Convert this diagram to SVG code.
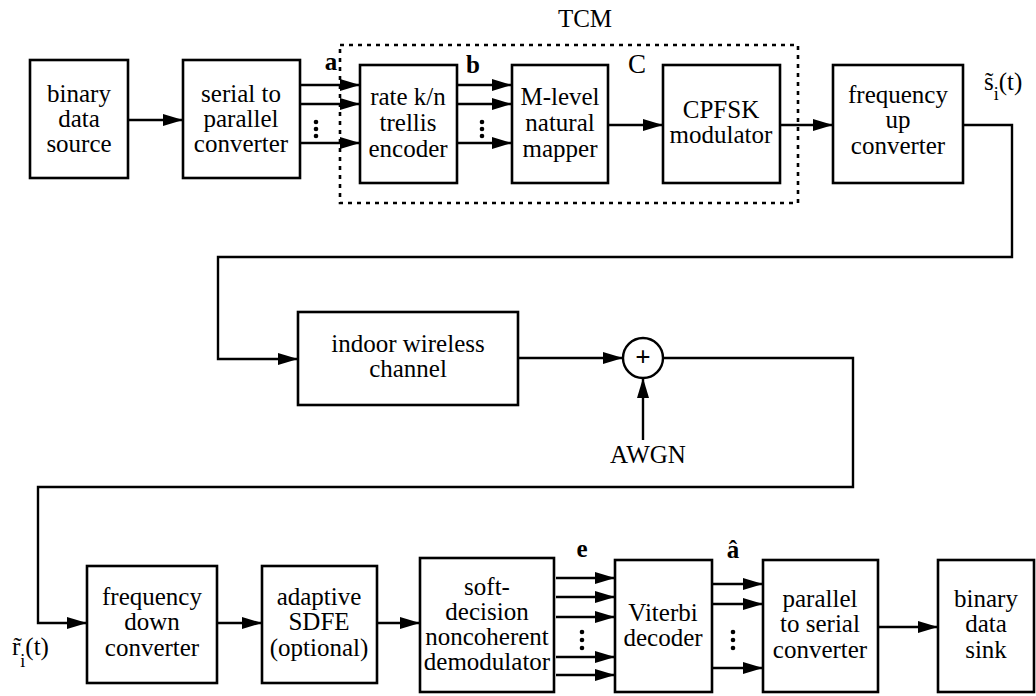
<svg xmlns="http://www.w3.org/2000/svg" width="1036" height="696" viewBox="0 0 1036 696">
<defs>
<marker id="ah" markerUnits="userSpaceOnUse" markerWidth="20" markerHeight="12" refX="20" refY="6" orient="auto">
<path d="M0,0 L20,6 L0,12 z" fill="#000"/>
</marker>
<style>
.box{fill:#fff;stroke:#000;stroke-width:2.6}
.ar{fill:none;stroke:#000;stroke-width:2.4;marker-end:url(#ah)}
.t{font-family:"Liberation Serif","Times New Roman",serif;font-size:25px;fill:#000;text-anchor:middle}
.lb{font-family:"Liberation Serif","Times New Roman",serif;font-size:25px;font-weight:bold;fill:#000;text-anchor:middle}
.dot{fill:#000}
.tcm{fill:none;stroke:#000;stroke-width:2.6;stroke-dasharray:4 5}
</style>
</defs>
<rect width="1036" height="696" fill="#fff"/>

<g id="tcm-frame">
<rect class="tcm" x="340" y="45" width="458" height="158"/>
<text class="t" x="585" y="27">TCM</text>
</g>

<g id="connectors">
<line class="ar" x1="128" y1="120" x2="183" y2="120"/>
<line class="ar" x1="300" y1="85" x2="360" y2="85"/>
<line class="ar" x1="300" y1="104" x2="360" y2="104"/>
<line class="ar" x1="300" y1="143" x2="360" y2="143"/>
<line class="ar" x1="457" y1="85" x2="512" y2="85"/>
<line class="ar" x1="457" y1="104" x2="512" y2="104"/>
<line class="ar" x1="457" y1="143" x2="512" y2="143"/>
<line class="ar" x1="608" y1="125" x2="663" y2="125"/>
<line class="ar" x1="780" y1="125" x2="833" y2="125"/>
<polyline class="ar" points="963,125 1012,125 1012,257 218,257 218,359 298,359"/>
<line class="ar" x1="518" y1="358" x2="623" y2="358"/>
<line class="ar" x1="643" y1="440" x2="643" y2="378"/>
<polyline class="ar" points="663,358 853,358 853,487 38,487 38,623 87,623"/>
<line class="ar" x1="217" y1="623" x2="262" y2="623"/>
<line class="ar" x1="377" y1="623" x2="420" y2="623"/>
<line class="ar" x1="556" y1="578" x2="615" y2="578"/>
<line class="ar" x1="556" y1="597" x2="615" y2="597"/>
<line class="ar" x1="556" y1="617" x2="615" y2="617"/>
<line class="ar" x1="556" y1="657" x2="615" y2="657"/>
<line class="ar" x1="556" y1="675" x2="615" y2="675"/>
<line class="ar" x1="712" y1="584" x2="763" y2="584"/>
<line class="ar" x1="712" y1="604" x2="763" y2="604"/>
<line class="ar" x1="712" y1="668" x2="763" y2="668"/>
<line class="ar" x1="878" y1="627" x2="938" y2="627"/>
<g class="dot">
<circle cx="316" cy="122" r="2.3"/><circle cx="316" cy="129" r="2.3"/><circle cx="316" cy="136" r="2.3"/>
<circle cx="482" cy="122" r="2.3"/><circle cx="482" cy="129" r="2.3"/><circle cx="482" cy="136" r="2.3"/>
<circle cx="582" cy="632" r="2.3"/><circle cx="582" cy="640" r="2.3"/><circle cx="582" cy="648" r="2.3"/>
<circle cx="733" cy="632" r="2.3"/><circle cx="733" cy="640" r="2.3"/><circle cx="733" cy="648" r="2.3"/>
</g>
<text class="lb" x="331" y="70">a</text>
<text class="lb" x="473" y="73">b</text>
<text class="t" x="637" y="73" style="font-size:27px">C</text>
<text class="lb" x="582" y="557">e</text>
<text class="lb" x="733" y="558">â</text>
<text class="t" x="984" y="90" style="text-anchor:start">s̃<tspan dy="10" font-size="18">i</tspan><tspan dy="-10">(t)</tspan></text>
<text class="t" x="12" y="655" style="text-anchor:start">r̃<tspan dy="12" font-size="18">i</tspan><tspan dy="-12">(t)</tspan></text>
<text class="t" x="648" y="463">AWGN</text>
</g>

<g id="binary-source">
<rect class="box" x="30" y="60" width="98" height="118"/>
<text class="t"><tspan x="79" y="102">binary</tspan><tspan x="79" y="127">data</tspan><tspan x="79" y="152">source</tspan></text>
</g>
<g id="serial-parallel">
<rect class="box" x="183" y="60" width="117" height="118"/>
<text class="t"><tspan x="241" y="102">serial to</tspan><tspan x="241" y="127">parallel</tspan><tspan x="241" y="152">converter</tspan></text>
</g>
<g id="trellis-encoder">
<rect class="box" x="360" y="65" width="97" height="118"/>
<text class="t"><tspan x="408" y="105">rate k/n</tspan><tspan x="408" y="131">trellis</tspan><tspan x="408" y="157">encoder</tspan></text>
</g>
<g id="mapper">
<rect class="box" x="512" y="65" width="96" height="118"/>
<text class="t"><tspan x="560" y="105">M-level</tspan><tspan x="560" y="131">natural</tspan><tspan x="560" y="157">mapper</tspan></text>
</g>
<g id="cpfsk">
<rect class="box" x="663" y="65" width="117" height="118"/>
<text class="t"><tspan x="721" y="118">CPFSK</tspan><tspan x="721" y="143">modulator</tspan></text>
</g>
<g id="up-converter">
<rect class="box" x="833" y="65" width="130" height="118"/>
<text class="t"><tspan x="898" y="103">frequency</tspan><tspan x="898" y="128">up</tspan><tspan x="898" y="154">converter</tspan></text>
</g>
<g id="channel">
<rect class="box" x="298" y="312" width="220" height="93"/>
<text class="t"><tspan x="408" y="352">indoor wireless</tspan><tspan x="408" y="377">channel</tspan></text>
</g>
<g id="adder">
<circle cx="643" cy="358" r="20" fill="#fff" stroke="#000" stroke-width="2.4"/>
<text class="lb" x="643" y="366" style="font-size:27px">+</text>
</g>
<g id="down-converter">
<rect class="box" x="87" y="566" width="130" height="117"/>
<text class="t"><tspan x="152" y="605">frequency</tspan><tspan x="152" y="630">down</tspan><tspan x="152" y="656">converter</tspan></text>
</g>
<g id="sdfe">
<rect class="box" x="262" y="566" width="115" height="117"/>
<text class="t"><tspan x="319" y="605">adaptive</tspan><tspan x="319" y="630">SDFE</tspan><tspan x="319" y="656">(optional)</tspan></text>
</g>
<g id="demodulator">
<rect class="box" x="420" y="558" width="134" height="134"/>
<text class="t"><tspan x="487" y="595">soft-</tspan><tspan x="487" y="620">decision</tspan><tspan x="487" y="645">noncoherent</tspan><tspan x="487" y="670">demodulator</tspan></text>
</g>
<g id="viterbi">
<rect class="box" x="615" y="560" width="97" height="132"/>
<text class="t"><tspan x="663" y="621">Viterbi</tspan><tspan x="663" y="646">decoder</tspan></text>
</g>
<g id="parallel-serial">
<rect class="box" x="763" y="560" width="115" height="132"/>
<text class="t"><tspan x="820" y="607">parallel</tspan><tspan x="820" y="632">to serial</tspan><tspan x="820" y="658">converter</tspan></text>
</g>
<g id="binary-sink">
<rect class="box" x="938" y="560" width="96" height="132"/>
<text class="t"><tspan x="986" y="607">binary</tspan><tspan x="986" y="632">data</tspan><tspan x="986" y="658">sink</tspan></text>
</g>
</svg>
